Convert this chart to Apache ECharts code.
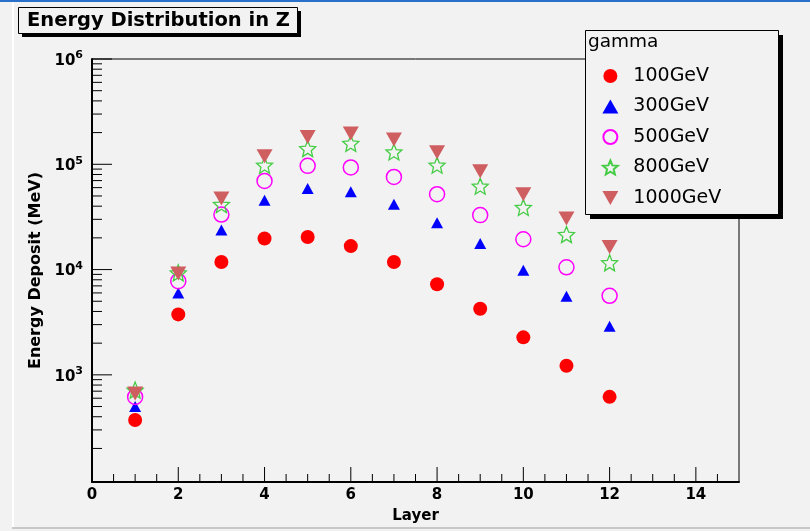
<!DOCTYPE html>
<html>
<head>
<meta charset="utf-8">
<script src="https://cdn.jsdelivr.net/npm/echarts@6/dist/echarts.min.js"></script>
<style>
  html, body { margin: 0; padding: 0; background: #f2f2f2; }
  #chart { width: 810px; height: 531px; }
</style>
</head>
<body>
<div id="chart"></div>
<script>
// Longitudinal shower profile: energy deposited per layer for gamma beams
const layers = [1, 2, 3, 4, 5, 6, 7, 8, 9, 10, 11, 12];
const e100GeV  = [372, 3750, 11800, 19700, 20400, 16700, 11800, 7260, 4240, 2270, 1220, 618];
const e300GeV  = [500, 6000, 23700, 45600, 58900, 54700, 41800, 27800, 17700, 9860, 5590, 2900];
const e500GeV  = [617, 7760, 33300, 69500, 96600, 93300, 75800, 52000, 32900, 19400, 10500, 5630];
const e800GeV  = [716, 9300, 41500, 97900, 141000, 158000, 131000, 98000, 61900, 38900, 21500, 11600];
const e1000GeV = [665, 9180, 47300, 119000, 182000, 196000, 172000, 130000, 85900, 52000, 30500, 16400];

const seriesNames = ['100GeV', '300GeV', '500GeV', '800GeV', '1000GeV'];
const yDecadeLabels = [3, 4, 5, 6];

const Y_MIN = 96, Y_MAX = 1e6, X_MIN = 0, X_MAX = 15;
const FONT = 'DejaVu Sans';

// Axis tick positions (log decades with 2..9 sub-ticks on Y, 2 / 0.5 steps on X)
const tickData = [];
for (let e = 1; e <= 6; e++) {
  const base = Math.pow(10, e);
  if (base > Y_MIN && base <= Y_MAX && e >= 3) tickData.push([X_MIN, base, 0]);
  for (let k = 2; k <= 9; k++) {
    const v = k * base;
    if (v > Y_MIN && v < Y_MAX) tickData.push([X_MIN, v, 1]);
  }
}
for (let x = 0.5; x < X_MAX; x += 0.5) {
  tickData.push([x, Y_MIN, (x % 2 === 0) ? 2 : 3]);
}

const starPath = 'path://M50,0 L63.2,31.8 L97.6,34.5 L71.4,57 L79.4,90.5 L50,72.5 L20.6,90.5 L28.6,57 L2.4,34.5 L36.8,31.8 Z';
const downTriangle = 'path://M0,0 L100,0 L50,88 Z';

function pts(vals) { return layers.map((l, i) => [l, vals[i]]); }

const chart = echarts.init(document.getElementById('chart'), null, { renderer: 'canvas' });

chart.setOption({
  backgroundColor: '#f2f2f2',
  animation: false,
  textStyle: { fontFamily: FONT },
  grid: {
    left: 92, right: 71, top: 59, bottom: 49,
    show: true, borderColor: '#000', borderWidth: 1, backgroundColor: 'transparent'
  },
  xAxis: {
    type: 'value', min: X_MIN, max: X_MAX, interval: 2,
    name: 'Layer', nameLocation: 'middle', nameGap: 27,
    nameTextStyle: { fontFamily: FONT, fontWeight: 'bold', fontSize: 15, color: '#000' },
    axisLine: { show: true, lineStyle: { color: '#000', width: 2 } },
    axisTick: { show: false },
    splitLine: { show: false },
    axisLabel: {
      margin: 6, fontFamily: FONT, fontWeight: 'bold', fontSize: 15, color: '#000',
      formatter: v => (v > 14 ? '' : String(v))
    }
  },
  yAxis: {
    type: 'log', logBase: 10, min: Y_MIN, max: Y_MAX,
    name: 'Energy Deposit (MeV)', nameLocation: 'middle', nameGap: 47,
    nameTextStyle: { fontFamily: FONT, fontWeight: 'bold', fontSize: 16, color: '#000' },
    axisLine: { show: true, lineStyle: { color: '#000', width: 2 } },
    axisTick: { show: false },
    splitLine: { show: false },
    axisLabel: {
      margin: 9,
      formatter: v => {
        const e = Math.round(Math.log10(v));
        if (Math.abs(Math.log10(v) - e) > 1e-6 || yDecadeLabels.indexOf(e) < 0) return '';
        return '{b|10}{s|' + e + '}';
      },
      rich: {
        b: { fontFamily: FONT, fontWeight: 'bold', fontSize: 15, color: '#000', lineHeight: 18, padding: [4, 0, 0, 0] },
        s: { fontFamily: FONT, fontWeight: 'bold', fontSize: 11, color: '#000', lineHeight: 11, verticalAlign: 'top' }
      }
    }
  },
  legend: {
    data: [
      { name: seriesNames[0] },
      { name: seriesNames[1] },
      { name: seriesNames[2] },
      { name: seriesNames[3] },
      { name: seriesNames[4], icon: downTriangle }
    ],
    orient: 'vertical',
    left: 602, top: 66,
    padding: 0,
    itemWidth: 16, itemHeight: 14, itemGap: 10.5,
    symbolKeepAspect: true,
    textStyle: { fontFamily: FONT, fontSize: 19, color: '#000', lineHeight: 20, padding: [0, 0, 0, 10] },
    z: 20
  },
  graphic: [
    { type: 'rect', shape: { x: 0, y: 0, width: 810, height: 2 }, style: { fill: '#2a6fc9' }, silent: true },
    { type: 'rect', shape: { x: 12, y: 2, width: 2, height: 526 }, style: { fill: '#ffffff' }, silent: true },
    { type: 'rect', shape: { x: 12, y: 527, width: 798, height: 2 }, style: { fill: '#c8c8c8' }, silent: true },
    // title pave with shadow
    { type: 'rect', z: 10, shape: { x: 22, y: 11, width: 279, height: 26 }, style: { fill: '#000' }, silent: true },
    { type: 'rect', z: 11, shape: { x: 18.5, y: 7.5, width: 279, height: 26 }, style: { fill: '#f2f2f2', stroke: '#000', lineWidth: 1 }, silent: true },
    { type: 'text', z: 12, x: 27, y: 21, style: { text: 'Energy Distribution in Z', font: 'bold 19.5px "DejaVu Sans"', fill: '#000', verticalAlign: 'middle' }, silent: true },
    // legend pave with shadow
    { type: 'rect', z: 10, shape: { x: 590, y: 35, width: 193, height: 184 }, style: { fill: '#000' }, silent: true },
    { type: 'rect', z: 11, shape: { x: 585.5, y: 30.5, width: 193, height: 184 }, style: { fill: '#f2f2f2', stroke: '#000', lineWidth: 1 }, silent: true },
    { type: 'text', z: 12, x: 588, y: 42, style: { text: 'gamma', font: '18.5px "DejaVu Sans"', fill: '#000', verticalAlign: 'middle' }, silent: true }
  ],
  series: [
    {
      name: 'axisTicks', type: 'custom', silent: true, clip: false, z: 5,
      data: tickData,
      encode: { x: 0, y: 1 },
      renderItem: (params, api) => {
        const kind = api.value(2);
        const p = api.coord([api.value(0), api.value(1)]);
        let x2 = p[0], y2 = p[1];
        if (kind === 0) x2 += 20;
        else if (kind === 1) x2 += 10;
        else if (kind === 2) y2 -= 15;
        else y2 -= 8;
        return { type: 'line', shape: { x1: p[0], y1: p[1], x2: x2, y2: y2 }, style: { stroke: '#000', lineWidth: 1 } };
      }
    },
    {
      name: '100GeV', type: 'scatter', data: pts(e100GeV), z: 6,
      symbol: 'circle', symbolSize: 14,
      itemStyle: { color: '#ff0000', opacity: 1 }
    },
    {
      name: '300GeV', type: 'scatter', data: pts(e300GeV), z: 7,
      symbol: 'triangle', symbolSize: [12, 11],
      itemStyle: { color: '#0000ff', opacity: 1 }
    },
    {
      name: '500GeV', type: 'scatter', data: pts(e500GeV), z: 8,
      symbol: 'circle', symbolSize: 15,
      itemStyle: { color: 'rgba(0,0,0,0)', borderColor: '#ff00ff', borderWidth: 1.5, opacity: 1 }
    },
    {
      name: '800GeV', type: 'scatter', data: pts(e800GeV), z: 9,
      symbol: starPath, symbolSize: 16,
      itemStyle: { color: 'rgba(0,0,0,0)', borderColor: '#44cc44', borderWidth: 1.3, opacity: 1 }
    },
    {
      name: '1000GeV', type: 'scatter', data: pts(e1000GeV), z: 10,
      symbol: downTriangle, symbolSize: [16, 14],
      itemStyle: { color: '#cf5e61', opacity: 1 }
    }
  ]
});
</script>
</body>
</html>
